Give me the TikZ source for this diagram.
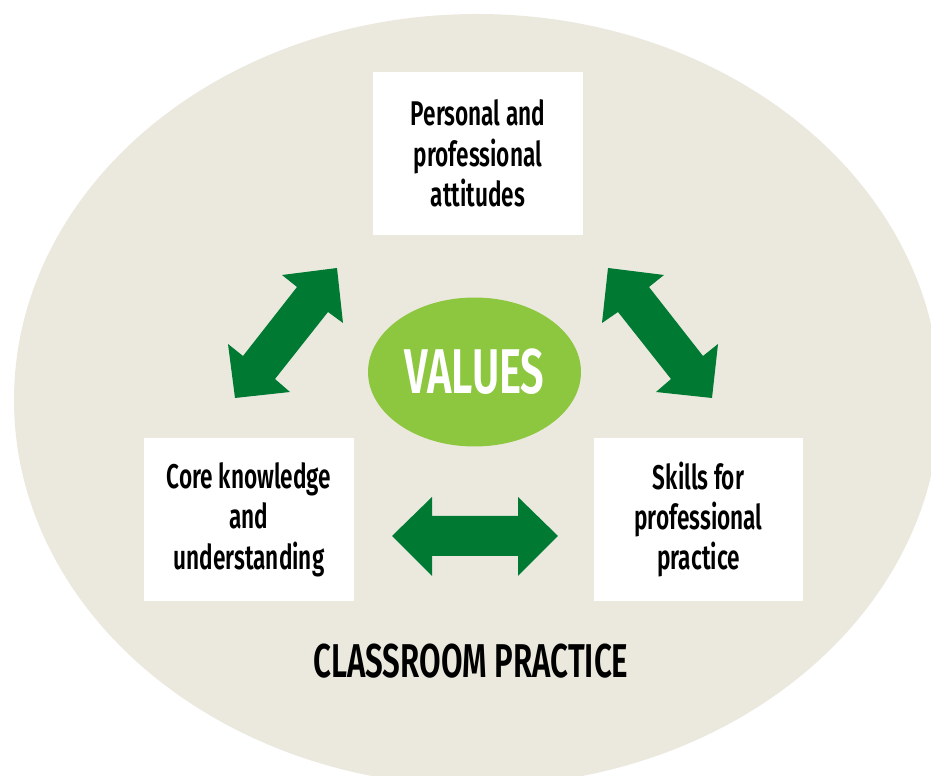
\documentclass[tikz,border=0pt]{standalone}
\usepackage{fontspec}
\usetikzlibrary{shapes.geometric}
\setmainfont{Fira Sans}[FakeStretch=0.66, BoldFont={Fira Sans SemiBold}]
\begin{document}
\begin{tikzpicture}[x=0.02cm, y=-0.02cm]
  \definecolor{sand}{HTML}{EBE9DE}
  \definecolor{leaf}{HTML}{8DC63F}
  \definecolor{forest}{HTML}{007A33}
  \tikzset{
    card/.style={fill=white, minimum width=4.2cm, minimum height=3.26cm,
      align=center, font=\fontsize{19.5}{23}\selectfont\bfseries, inner sep=0pt},
    blockarrow/.style={fill=forest, draw=none}
  }
  \useasboundingbox (0,0) rectangle (931,776);
  \clip (0,0) rectangle (931,776);
  \fill[white] (0,0) rectangle (931,776);

  % outer field: classroom practice
  \fill[sand] (477,400) ellipse [x radius=463, y radius=386];

  % the three cards
  \node[card] (att) at (478,153.5) {Personal and\\professional\\attitudes};
  \node[card] (core) at (249,519.5) {Core knowledge\\and\\understanding};
  \node[card] (skill) at (698.5,519.5) {Skills for\\professional\\practice};

  % centre: values
  \node[ellipse, fill=leaf, minimum width=4.26cm, minimum height=2.98cm,
        inner sep=0pt, text=white, font=\fontsize{36}{40}\selectfont\bfseries]
        (val) at (474.5,372) {VALUES};

  % double-headed block arrows between the cards
  \fill[blockarrow] (337,268) -- (282,275) -- (297,287) -- (243,356) -- (228,344)
    -- (235,398) -- (290,392) -- (275,379) -- (328,312) -- (343,323) -- cycle;
  \fill[blockarrow] (608,268) -- (664,275) -- (649,287) -- (703,356) -- (718,344)
    -- (712,398) -- (656,392) -- (671,379) -- (618,312) -- (602,323) -- cycle;
  \fill[blockarrow] (392,536) -- (432,497) -- (432,516) -- (518,516) -- (518,497)
    -- (558,536) -- (518,576) -- (518,556) -- (432,556) -- (432,576) -- cycle;

  \node[font=\fontsize{27}{32}\selectfont\bfseries] (cp) at (471,661) {CLASSROOM PRACTICE};
\end{tikzpicture}
\end{document}
